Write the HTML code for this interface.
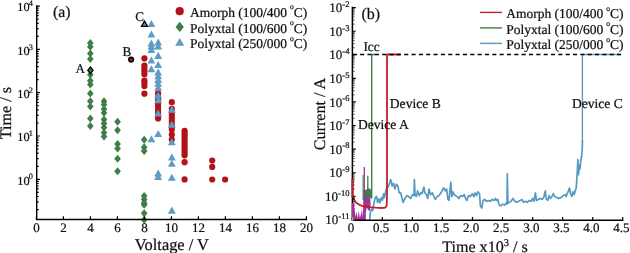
<!DOCTYPE html>
<html><head><meta charset="utf-8"><title>Figure</title>
<style>html,body{margin:0;padding:0;background:#fff}svg{display:block}text{font-family:"Liberation Serif", serif;fill:#111;text-rendering:geometricPrecision;stroke:#111;stroke-width:0.22px}</style>
</head><body>
<svg width="630" height="253" viewBox="0 0 630 253">
<rect width="630" height="253" fill="#fff"/>
<g id="left-data">
<circle cx="144.4" cy="58.4" r="3.1" fill="#b3121b"/>
<circle cx="144.4" cy="65.6" r="3.1" fill="#b3121b"/>
<circle cx="144.4" cy="68.5" r="3.1" fill="#b3121b"/>
<circle cx="144.4" cy="71.3" r="3.1" fill="#b3121b"/>
<circle cx="144.4" cy="74.2" r="3.1" fill="#b3121b"/>
<circle cx="144.4" cy="80.5" r="3.1" fill="#b3121b"/>
<circle cx="144.4" cy="83.0" r="3.1" fill="#b3121b"/>
<circle cx="144.4" cy="86.0" r="3.1" fill="#b3121b"/>
<circle cx="144.4" cy="93.7" r="3.1" fill="#b3121b"/>
<circle cx="158.1" cy="93.3" r="3.1" fill="#b3121b"/>
<circle cx="158.1" cy="97.0" r="3.1" fill="#b3121b"/>
<circle cx="158.1" cy="100.5" r="3.1" fill="#b3121b"/>
<circle cx="158.1" cy="104.0" r="3.1" fill="#b3121b"/>
<circle cx="158.1" cy="107.0" r="3.1" fill="#b3121b"/>
<circle cx="158.1" cy="110.0" r="3.1" fill="#b3121b"/>
<circle cx="158.1" cy="113.0" r="3.1" fill="#b3121b"/>
<circle cx="158.1" cy="116.0" r="3.1" fill="#b3121b"/>
<circle cx="158.1" cy="118.5" r="3.1" fill="#b3121b"/>
<circle cx="171.8" cy="102.2" r="3.1" fill="#b3121b"/>
<circle cx="171.8" cy="108.8" r="3.1" fill="#b3121b"/>
<circle cx="171.8" cy="112.0" r="3.1" fill="#b3121b"/>
<circle cx="171.8" cy="115.0" r="3.1" fill="#b3121b"/>
<circle cx="171.8" cy="118.0" r="3.1" fill="#b3121b"/>
<circle cx="171.8" cy="121.0" r="3.1" fill="#b3121b"/>
<circle cx="171.8" cy="124.0" r="3.1" fill="#b3121b"/>
<circle cx="171.8" cy="126.5" r="3.1" fill="#b3121b"/>
<circle cx="171.8" cy="129.5" r="3.1" fill="#b3121b"/>
<circle cx="171.8" cy="134.6" r="3.1" fill="#b3121b"/>
<circle cx="171.8" cy="139.6" r="3.1" fill="#b3121b"/>
<circle cx="184.6" cy="130.8" r="3.1" fill="#b3121b"/>
<circle cx="184.6" cy="133.0" r="3.1" fill="#b3121b"/>
<circle cx="184.6" cy="135.5" r="3.1" fill="#b3121b"/>
<circle cx="184.6" cy="138.0" r="3.1" fill="#b3121b"/>
<circle cx="184.6" cy="140.5" r="3.1" fill="#b3121b"/>
<circle cx="184.6" cy="143.0" r="3.1" fill="#b3121b"/>
<circle cx="184.6" cy="145.5" r="3.1" fill="#b3121b"/>
<circle cx="184.6" cy="148.0" r="3.1" fill="#b3121b"/>
<circle cx="184.6" cy="150.5" r="3.1" fill="#b3121b"/>
<circle cx="184.6" cy="153.0" r="3.1" fill="#b3121b"/>
<circle cx="184.6" cy="155.3" r="3.1" fill="#b3121b"/>
<circle cx="184.6" cy="162.2" r="3.1" fill="#b3121b"/>
<circle cx="184.6" cy="179.4" r="3.1" fill="#b3121b"/>
<circle cx="212.2" cy="160.5" r="3.1" fill="#b3121b"/>
<circle cx="212.2" cy="166.9" r="3.1" fill="#b3121b"/>
<circle cx="212.2" cy="179.5" r="3.1" fill="#b3121b"/>
<circle cx="225.1" cy="179.5" r="3.1" fill="#b3121b"/>
<path d="M90.3 38.9L93.6 42.9L90.3 46.9L87.0 42.9Z" fill="#3f7d49"/>
<path d="M90.3 42.7L93.6 46.7L90.3 50.7L87.0 46.7Z" fill="#3f7d49"/>
<path d="M90.3 49.6L93.6 53.6L90.3 57.6L87.0 53.6Z" fill="#3f7d49"/>
<path d="M90.3 55.1L93.6 59.1L90.3 63.1L87.0 59.1Z" fill="#3f7d49"/>
<path d="M90.3 70.8L93.6 74.8L90.3 78.8L87.0 74.8Z" fill="#3f7d49"/>
<path d="M90.3 76.8L93.6 80.8L90.3 84.8L87.0 80.8Z" fill="#3f7d49"/>
<path d="M90.3 80.4L93.6 84.4L90.3 88.4L87.0 84.4Z" fill="#3f7d49"/>
<path d="M90.3 89.4L93.6 93.4L90.3 97.4L87.0 93.4Z" fill="#3f7d49"/>
<path d="M90.3 97.2L93.6 101.2L90.3 105.2L87.0 101.2Z" fill="#3f7d49"/>
<path d="M90.3 102.4L93.6 106.4L90.3 110.4L87.0 106.4Z" fill="#3f7d49"/>
<path d="M90.3 114.6L93.6 118.6L90.3 122.6L87.0 118.6Z" fill="#3f7d49"/>
<path d="M90.3 121.9L93.6 125.9L90.3 129.9L87.0 125.9Z" fill="#3f7d49"/>
<path d="M104.0 97.2L107.3 101.2L104.0 105.2L100.7 101.2Z" fill="#3f7d49"/>
<path d="M104.0 100.4L107.3 104.4L104.0 108.4L100.7 104.4Z" fill="#3f7d49"/>
<path d="M104.0 105.0L107.3 109.0L104.0 113.0L100.7 109.0Z" fill="#3f7d49"/>
<path d="M104.0 108.8L107.3 112.8L104.0 116.8L100.7 112.8Z" fill="#3f7d49"/>
<path d="M104.0 115.4L107.3 119.4L104.0 123.4L100.7 119.4Z" fill="#3f7d49"/>
<path d="M104.0 119.5L107.3 123.5L104.0 127.5L100.7 123.5Z" fill="#3f7d49"/>
<path d="M104.0 123.5L107.3 127.5L104.0 131.5L100.7 127.5Z" fill="#3f7d49"/>
<path d="M104.0 128.8L107.3 132.8L104.0 136.8L100.7 132.8Z" fill="#3f7d49"/>
<path d="M104.0 132.6L107.3 136.6L104.0 140.6L100.7 136.6Z" fill="#3f7d49"/>
<path d="M117.6 117.8L120.9 121.8L117.6 125.8L114.2 121.8Z" fill="#3f7d49"/>
<path d="M117.6 126.2L120.9 130.2L117.6 134.2L114.2 130.2Z" fill="#3f7d49"/>
<path d="M117.6 140.0L120.9 144.0L117.6 148.0L114.2 144.0Z" fill="#3f7d49"/>
<path d="M117.6 144.6L120.9 148.6L117.6 152.6L114.2 148.6Z" fill="#3f7d49"/>
<path d="M117.6 154.7L120.9 158.7L117.6 162.7L114.2 158.7Z" fill="#3f7d49"/>
<path d="M117.6 167.3L120.9 171.3L117.6 175.3L114.2 171.3Z" fill="#3f7d49"/>
<path d="M144.2 135.8L147.5 139.8L144.2 143.8L140.8 139.8Z" fill="#3f7d49"/>
<path d="M144.2 143.3L147.5 147.3L144.2 151.3L140.8 147.3Z" fill="#3f7d49"/>
<path d="M144.2 147.0L147.5 151.0L144.2 155.0L140.8 151.0Z" fill="#3f7d49"/>
<path d="M144.2 192.0L147.5 196.0L144.2 200.0L140.8 196.0Z" fill="#3f7d49"/>
<path d="M144.2 195.5L147.5 199.5L144.2 203.5L140.8 199.5Z" fill="#3f7d49"/>
<path d="M144.2 199.0L147.5 203.0L144.2 207.0L140.8 203.0Z" fill="#3f7d49"/>
<path d="M144.2 200.8L147.5 204.8L144.2 208.8L140.8 204.8Z" fill="#3f7d49"/>
<path d="M144.2 209.2L147.5 213.2L144.2 217.2L140.8 213.2Z" fill="#3f7d49"/>
<path d="M144.2 215.8L147.5 219.8L144.2 223.8L140.8 219.8Z" fill="#3f7d49"/>
<path d="M151.4 19.9L155.3 26.9L147.5 26.9Z" fill="#5f9cc5"/>
<path d="M151.4 30.5L155.3 37.5L147.5 37.5Z" fill="#5f9cc5"/>
<path d="M151.4 39.6L155.3 46.6L147.5 46.6Z" fill="#5f9cc5"/>
<path d="M151.4 42.5L155.3 49.5L147.5 49.5Z" fill="#5f9cc5"/>
<path d="M151.4 45.8L155.3 52.9L147.5 52.9Z" fill="#5f9cc5"/>
<path d="M151.4 56.5L155.3 63.5L147.5 63.5Z" fill="#5f9cc5"/>
<path d="M151.4 65.2L155.3 72.2L147.5 72.2Z" fill="#5f9cc5"/>
<path d="M151.4 135.2L155.3 142.2L147.5 142.2Z" fill="#5f9cc5"/>
<path d="M158.2 38.6L162.1 45.6L154.2 45.6Z" fill="#5f9cc5"/>
<path d="M158.2 42.4L162.1 49.5L154.2 49.5Z" fill="#5f9cc5"/>
<path d="M158.2 51.8L162.1 58.9L154.2 58.9Z" fill="#5f9cc5"/>
<path d="M158.2 60.9L162.1 68.0L154.2 68.0Z" fill="#5f9cc5"/>
<path d="M158.2 68.5L162.1 75.5L154.2 75.5Z" fill="#5f9cc5"/>
<path d="M158.2 72.2L162.1 79.2L154.2 79.2Z" fill="#5f9cc5"/>
<path d="M158.2 76.0L162.1 83.0L154.2 83.0Z" fill="#5f9cc5"/>
<path d="M158.2 79.8L162.1 86.8L154.2 86.8Z" fill="#5f9cc5"/>
<path d="M158.2 83.8L162.1 90.8L154.2 90.8Z" fill="#5f9cc5"/>
<path d="M158.2 91.5L162.1 98.5L154.2 98.5Z" fill="#5f9cc5"/>
<path d="M158.2 96.2L162.1 103.2L154.2 103.2Z" fill="#5f9cc5"/>
<path d="M158.2 109.4L162.1 116.5L154.2 116.5Z" fill="#5f9cc5"/>
<path d="M158.2 130.0L162.1 137.1L154.2 137.1Z" fill="#5f9cc5"/>
<path d="M158.2 169.5L162.1 176.6L154.2 176.6Z" fill="#5f9cc5"/>
<path d="M158.2 172.9L162.1 179.9L154.2 179.9Z" fill="#5f9cc5"/>
<path d="M171.8 105.7L175.8 112.8L167.9 112.8Z" fill="#5f9cc5"/>
<path d="M171.8 120.8L175.8 127.8L167.9 127.8Z" fill="#5f9cc5"/>
<path d="M171.8 138.2L175.8 145.2L167.9 145.2Z" fill="#5f9cc5"/>
<path d="M171.8 153.5L175.8 160.6L167.9 160.6Z" fill="#5f9cc5"/>
<path d="M171.8 159.7L175.8 166.8L167.9 166.8Z" fill="#5f9cc5"/>
<path d="M171.8 173.7L175.8 180.8L167.9 180.8Z" fill="#5f9cc5"/>
<path d="M171.8 206.6L175.8 213.7L167.9 213.7Z" fill="#5f9cc5"/>
<path d="M90.4 67.0L93.0 70.3L90.4 73.6L87.8 70.3Z" fill="#3f7d49" stroke="#000" stroke-width="1.3"/>
<circle cx="131.1" cy="59.6" r="2.3" fill="#b3121b" stroke="#000" stroke-width="1.6"/>
<path d="M144.5 21.1L147.5 26.4L141.5 26.4Z" fill="#5f9cc5" stroke="#000" stroke-width="1.3"/>
</g>
<g stroke="#000" stroke-width="1.4" fill="none" stroke-linecap="butt">
<path d="M36.7 5.3V219.5H307.2"/>
<path d="M36.7 209.6h2.0M36.7 201.9h2.0M36.7 196.5h2.0M36.7 192.3h2.0M36.7 188.9h2.0M36.7 186.0h2.0M36.7 183.5h2.0M36.7 181.3h2.0M36.7 179.3h3.2M36.7 166.3h2.0M36.7 158.6h2.0M36.7 153.2h2.0M36.7 149.0h2.0M36.7 145.6h2.0M36.7 142.7h2.0M36.7 140.2h2.0M36.7 138.0h2.0M36.7 136.0h3.2M36.7 123.0h2.0M36.7 115.3h2.0M36.7 109.9h2.0M36.7 105.7h2.0M36.7 102.3h2.0M36.7 99.4h2.0M36.7 96.9h2.0M36.7 94.7h2.0M36.7 92.7h3.2M36.7 79.7h2.0M36.7 72.0h2.0M36.7 66.6h2.0M36.7 62.4h2.0M36.7 59.0h2.0M36.7 56.1h2.0M36.7 53.6h2.0M36.7 51.4h2.0M36.7 49.4h3.2M36.7 36.4h2.0M36.7 28.7h2.0M36.7 23.3h2.0M36.7 19.1h2.0M36.7 15.7h2.0M36.7 12.8h2.0M36.7 10.3h2.0M36.7 8.1h2.0M36.7 6.1h3.2" stroke-width="1.2"/>
<path d="M36.4 219.5v-3.2M63.4 219.5v-3.2M90.4 219.5v-3.2M117.4 219.5v-3.2M144.4 219.5v-3.2M171.4 219.5v-3.2M198.4 219.5v-3.2M225.4 219.5v-3.2M252.4 219.5v-3.2M279.4 219.5v-3.2M306.4 219.5v-3.2" stroke-width="1.2"/>
</g>
<g font-size="12.3px">
<text x="32.9" text-anchor="end" y="184.6">10<tspan font-size="8.3px" dx="-0.8" dy="-5.2">0</tspan></text>
<text x="32.9" text-anchor="end" y="141.3">10<tspan font-size="8.3px" dx="-0.8" dy="-5.2">1</tspan></text>
<text x="32.9" text-anchor="end" y="98.0">10<tspan font-size="8.3px" dx="-0.8" dy="-5.2">2</tspan></text>
<text x="32.9" text-anchor="end" y="54.7">10<tspan font-size="8.3px" dx="-0.8" dy="-5.2">3</tspan></text>
<text x="32.9" text-anchor="end" y="11.4">10<tspan font-size="8.3px" dx="-0.8" dy="-5.2">4</tspan></text>
<text x="36.4" y="231.6" font-size="13px" text-anchor="middle">0</text>
<text x="63.4" y="231.6" font-size="13px" text-anchor="middle">2</text>
<text x="90.4" y="231.6" font-size="13px" text-anchor="middle">4</text>
<text x="117.4" y="231.6" font-size="13px" text-anchor="middle">6</text>
<text x="144.4" y="231.6" font-size="13px" text-anchor="middle">8</text>
<text x="171.4" y="231.6" font-size="13px" text-anchor="middle">10</text>
<text x="198.4" y="231.6" font-size="13px" text-anchor="middle">12</text>
<text x="225.4" y="231.6" font-size="13px" text-anchor="middle">14</text>
<text x="252.4" y="231.6" font-size="13px" text-anchor="middle">16</text>
<text x="279.4" y="231.6" font-size="13px" text-anchor="middle">18</text>
<text x="306.4" y="231.6" font-size="13px" text-anchor="middle">20</text>
</g>
<text x="171.9" y="249.7" font-size="16.4px" text-anchor="middle">Voltage / V</text>
<text transform="translate(10.9 113.1) rotate(-90)" font-size="16.2px" text-anchor="middle">Time / s</text>
<text x="52.9" y="17.1" font-size="15.8px">(a)</text>
<g font-size="13.2px">
<text x="75.5" y="72.5">A</text>
<text x="122.6" y="55.7">B</text>
<text x="135.2" y="20.9">C</text>
<circle cx="179.7" cy="11.2" r="4.1" fill="#b3121b"/>
<path d="M179.7 21.7L183.9 26.9L179.7 32.1L175.5 26.9Z" fill="#3f7d49"/>
<path d="M179.7 38.1L184.2 45.7L175.2 45.7Z" fill="#5f9cc5"/>
<text x="189.9" y="17.0" font-size="13.5px">Amorph (100/400 <tspan font-size="7.6px" dx="-0.5" dy="-7.6">o</tspan><tspan dy="7.6" dx="0.1">C)</tspan></text>
<text x="189.9" y="32.5" font-size="13.5px">Polyxtal (100/600 <tspan font-size="7.6px" dx="-0.5" dy="-7.6">o</tspan><tspan dy="7.6" dx="0.1">C)</tspan></text>
<text x="189.9" y="48.1" font-size="13.5px">Polyxtal (250/000 <tspan font-size="7.6px" dx="-0.5" dy="-7.6">o</tspan><tspan dy="7.6" dx="0.1">C)</tspan></text>
</g>
<g id="right-data" fill="none" stroke-linejoin="round">
<path fill="#a3309b" stroke="none" d="M351.9 203L353.2 202.5L354.4 209L355.5 216.5L356.6 212L357.6 218.5L358.9 210.5L359.7 218L360.8 215L362 209L362.8 218L363.3 205L363.6 190L366 190L367 194L368.5 196L370.3 197L370.6 205L369.8 210.9L368 210L366.8 207L365.9 212L365.8 220.4L351.9 220.4Z"/>
<path stroke="#a3309b" stroke-width="1.3" d="M364.3 167V205"/>
<path fill="#3f7d49" stroke="none" d="M365.2 197.6L365.4 191L366.2 189L367 190L367.8 186L368.6 189.5L369.6 188L370.5 190L371.5 187L371.9 199.5L370.5 197.5L369 199.3L367.5 197L366.4 199.6Z"/>
<path stroke="#3f7d49" stroke-width="1.1" d="M363.1 175V200"/>
<path stroke="#3f7d49" stroke-width="1.3" d="M367.8 175.8V192"/>
<path stroke="#3f7d49" stroke-width="1.4" d="M371.7 198V54.5H375.5"/>
<path stroke="#7cc22e" stroke-width="1.4" d="M352.7 216.6V220"/>
<path stroke="#5799c1" stroke-width="1.7" d="M369.7 220.4L370.3 212.8L371.5 209.0L372.8 210.3L374.0 202.7L375.3 197.6L376.6 196.3L377.6 202.7L378.9 198.9L380.1 202.7L381.4 197.6L382.6 200.0L383.5 193.8L384.4 197.6L385.4 192.5L386.2 189.5L387.2 186.5L388.2 187.0L389.2 184.2L390.7 179.5L392.2 186.1L393.5 183.3L394.9 189.0L396.4 184.2L397.9 186.1L399.2 192.8L400.6 192.8L402.1 198.5L403.0 202.3L404.9 198.5L406.8 195.6L408.7 196.6L410.6 198.5L412.5 194.7L414.0 195.6L414.4 179.5L415.0 194.7L416.3 196.6L417.6 190.9L419.2 195.6L420.7 192.8L422.0 193.7L423.9 187.1L424.8 192.8L426.4 194.7L427.7 198.5L429.0 189.0L430.5 194.7L432.4 192.8L434.0 196.6L435.3 199.4L437.2 196.6L439.1 195.6L441.0 192.8L442.9 189.0L443.8 188.0L445.3 190.9L446.6 189.0L448.0 199.4L449.1 200.4L449.9 190.9L450.8 182.3L451.8 196.6L452.9 191.8L454.2 194.7L455.6 195.6L457.1 196.6L459.0 198.5L460.5 195.6L462.4 196.6L464.3 194.7L465.6 198.5L466.9 200.4L468.5 195.6L470.4 196.6L472.3 193.7L473.8 196.6L475.1 192.8L476.4 195.6L478.0 191.8L479.5 193.7L480.4 206.0L481.7 208.0L483.3 200.4L484.6 199.4L486.5 201.3L488.4 200.4L490.3 201.3L492.2 199.4L494.1 200.4L495.4 198.5L496.5 200.4L497.8 199.4L499.2 205.1L500.7 206.0L502.6 204.2L504.5 205.1L506.0 203.2L507.0 204.2L507.3 173.8L507.9 203.2L509.2 202.3L511.1 201.3L513.0 198.5L514.9 201.3L516.8 202.3L518.7 201.3L520.6 200.4L521.9 199.4L523.5 202.3L525.4 201.3L527.3 202.3L529.2 200.4L531.0 201.3L532.6 198.5L533.9 201.3L535.4 192.8L536.4 200.4L538.3 199.4L540.5 198.5L542.4 199.4L544.0 196.6L545.3 190.9L546.2 198.5L547.8 200.4L549.1 195.6L550.4 198.5L551.9 196.6L553.4 193.6L554.7 196.5L556.6 197.4L558.5 198.4L561.4 197.4L563.3 195.5L565.2 194.6L566.1 196.5L567.5 192.7L568.6 190.8L569.4 188.0L570.5 193.6L571.8 196.5L573.1 191.7L574.3 194.6L575.2 190.8L576.2 188.0L576.9 178.5L577.9 159.5L578.5 174.7L579.4 165.2L580.0 169.0L580.7 161.4L581.7 155.7L582.3 148.0L582.4 140.0"/>
<path stroke="#5799c1" stroke-width="1.35" d="M582.4 141V54.5H621"/>
<path stroke="#c41e2a" stroke-width="1.8" d="M352.6 178.5L352.7 196.3L353.8 198.9L355.1 201.4L357.0 203.3L360.1 205.2L363.9 206.5L369.0 207.1L375.3 207.7L381.6 208.0L385.2 207.7L386.6 205.8L387.0 196.0L387.0 54.5L400.4 54.5"/>
</g>
<path d="M352.4 54.5H622.7" stroke="#000" stroke-width="1.5" stroke-dasharray="4.1 3.24" stroke-dashoffset="-0.4" fill="none"/>
<g stroke="#000" stroke-width="1.5" fill="none">
<path d="M352.4 6.7V220.3H623.3"/>
<path d="M352.4 196.2h3.4M352.4 172.7h3.4M352.4 149.1h3.4M352.4 125.5h3.4M352.4 101.9h3.4M352.4 78.4h3.4M352.4 54.8h3.4M352.4 31.2h3.4M352.4 7.6h3.4" stroke-width="1.1"/>
<path d="M352.4 212.7h2.3M352.4 208.6h2.3M352.4 205.6h2.3M352.4 203.3h2.3M352.4 201.5h2.3M352.4 199.9h2.3M352.4 198.5h2.3M352.4 197.3h2.3M352.4 189.1h2.3M352.4 185.0h2.3M352.4 182.0h2.3M352.4 179.7h2.3M352.4 177.9h2.3M352.4 176.3h2.3M352.4 174.9h2.3M352.4 173.7h2.3M352.4 165.6h2.3M352.4 161.4h2.3M352.4 158.5h2.3M352.4 156.2h2.3M352.4 154.3h2.3M352.4 152.7h2.3M352.4 151.4h2.3M352.4 150.2h2.3M352.4 142.0h2.3M352.4 137.8h2.3M352.4 134.9h2.3M352.4 132.6h2.3M352.4 130.7h2.3M352.4 129.2h2.3M352.4 127.8h2.3M352.4 126.6h2.3M352.4 118.4h2.3M352.4 114.3h2.3M352.4 111.3h2.3M352.4 109.0h2.3M352.4 107.2h2.3M352.4 105.6h2.3M352.4 104.2h2.3M352.4 103.0h2.3M352.4 94.8h2.3M352.4 90.7h2.3M352.4 87.7h2.3M352.4 85.4h2.3M352.4 83.6h2.3M352.4 82.0h2.3M352.4 80.6h2.3M352.4 79.4h2.3M352.4 71.3h2.3M352.4 67.1h2.3M352.4 64.2h2.3M352.4 61.9h2.3M352.4 60.0h2.3M352.4 58.4h2.3M352.4 57.1h2.3M352.4 55.9h2.3M352.4 47.7h2.3M352.4 43.5h2.3M352.4 40.6h2.3M352.4 38.3h2.3M352.4 36.4h2.3M352.4 34.9h2.3M352.4 33.5h2.3M352.4 32.3h2.3M352.4 24.1h2.3M352.4 20.0h2.3M352.4 17.0h2.3M352.4 14.7h2.3M352.4 12.9h2.3M352.4 11.3h2.3M352.4 9.9h2.3M352.4 8.7h2.3" stroke-width="0.65"/>
<path d="M352.3 220.3v-3.2M382.3 220.3v-3.2M412.4 220.3v-3.2M442.4 220.3v-3.2M472.5 220.3v-3.2M502.5 220.3v-3.2M532.6 220.3v-3.2M562.6 220.3v-3.2M592.7 220.3v-3.2M622.7 220.3v-3.2" stroke-width="1.2"/>
</g>
<path d="M353.1 203V220.4" stroke="#a3309b" stroke-width="2.5" fill="none"/>
<path d="M352.6 217V220.9" stroke="#7cc22e" stroke-width="1.4" fill="none"/>
<path d="M352.5 178.7V197.5" stroke="#c41e2a" stroke-width="1.6" fill="none"/>
<g font-size="12.3px">
<text x="349.5" text-anchor="end" y="224.4" font-size="13px">10<tspan font-size="8.6px" dy="-5.3">-11</tspan></text>
<text x="349.5" text-anchor="end" y="200.8" font-size="13px">10<tspan font-size="8.6px" dy="-5.3">-10</tspan></text>
<text x="349.5" text-anchor="end" y="177.2" font-size="13px">10<tspan font-size="8.6px" dy="-5.3">-9</tspan></text>
<text x="349.5" text-anchor="end" y="153.7" font-size="13px">10<tspan font-size="8.6px" dy="-5.3">-8</tspan></text>
<text x="349.5" text-anchor="end" y="130.1" font-size="13px">10<tspan font-size="8.6px" dy="-5.3">-7</tspan></text>
<text x="349.5" text-anchor="end" y="106.5" font-size="13px">10<tspan font-size="8.6px" dy="-5.3">-6</tspan></text>
<text x="349.5" text-anchor="end" y="83.0" font-size="13px">10<tspan font-size="8.6px" dy="-5.3">-5</tspan></text>
<text x="349.5" text-anchor="end" y="59.4" font-size="13px">10<tspan font-size="8.6px" dy="-5.3">-4</tspan></text>
<text x="349.5" text-anchor="end" y="35.8" font-size="13px">10<tspan font-size="8.6px" dy="-5.3">-3</tspan></text>
<text x="349.5" text-anchor="end" y="12.2" font-size="13px">10<tspan font-size="8.6px" dy="-5.3">-2</tspan></text>
<text x="351.0" y="232.3" font-size="13px" text-anchor="middle">0</text>
<text x="381.0" y="232.3" font-size="13px" text-anchor="middle">0.5</text>
<text x="411.1" y="232.3" font-size="13px" text-anchor="middle">1.0</text>
<text x="441.1" y="232.3" font-size="13px" text-anchor="middle">1.5</text>
<text x="471.2" y="232.3" font-size="13px" text-anchor="middle">2.0</text>
<text x="501.2" y="232.3" font-size="13px" text-anchor="middle">2.5</text>
<text x="531.3" y="232.3" font-size="13px" text-anchor="middle">3.0</text>
<text x="561.3" y="232.3" font-size="13px" text-anchor="middle">3.5</text>
<text x="591.4" y="232.3" font-size="13px" text-anchor="middle">4.0</text>
<text x="621.4" y="232.3" font-size="13px" text-anchor="middle">4.5</text>
</g>
<text x="485" y="251.8" font-size="16.1px" text-anchor="middle">Time x10<tspan font-size="10.5px" dy="-5.5">3</tspan><tspan dy="5.5"> / s</tspan></text>
<text transform="translate(324.7 114.0) rotate(-90)" font-size="16.1px" text-anchor="middle">Current / A</text>
<text x="361.4" y="19" font-size="16px">(b)</text>
<g font-size="13.3px">
<text x="363.4" y="50.6">Icc</text>
<text x="357.9" y="129.3" font-size="13.6px">Device A</text>
<text x="389.8" y="108.2" font-size="13.6px">Device B</text>
<text x="571.9" y="108" font-size="13.6px">Device C</text>
<path d="M480.1 12.4H502" stroke="#c41e2a" stroke-width="1.4"/>
<text x="506.2" font-size="13.5px" y="18.3">Amorph (100/400 <tspan font-size="7.6px" dx="-0.5" dy="-7.6">o</tspan><tspan dy="7.6" dx="0.1">C)</tspan></text>
<path d="M480.1 27.9H502" stroke="#3f7d49" stroke-width="1.4"/>
<text x="506.2" font-size="13.5px" y="33.8">Polyxtal (100/600 <tspan font-size="7.6px" dx="-0.5" dy="-7.6">o</tspan><tspan dy="7.6" dx="0.1">C)</tspan></text>
<path d="M480.1 43.4H502" stroke="#5799c1" stroke-width="1.4"/>
<text x="506.2" font-size="13.5px" y="49.2">Polyxtal (250/000 <tspan font-size="7.6px" dx="-0.5" dy="-7.6">o</tspan><tspan dy="7.6" dx="0.1">C)</tspan></text>
</g>
</svg></body></html>
